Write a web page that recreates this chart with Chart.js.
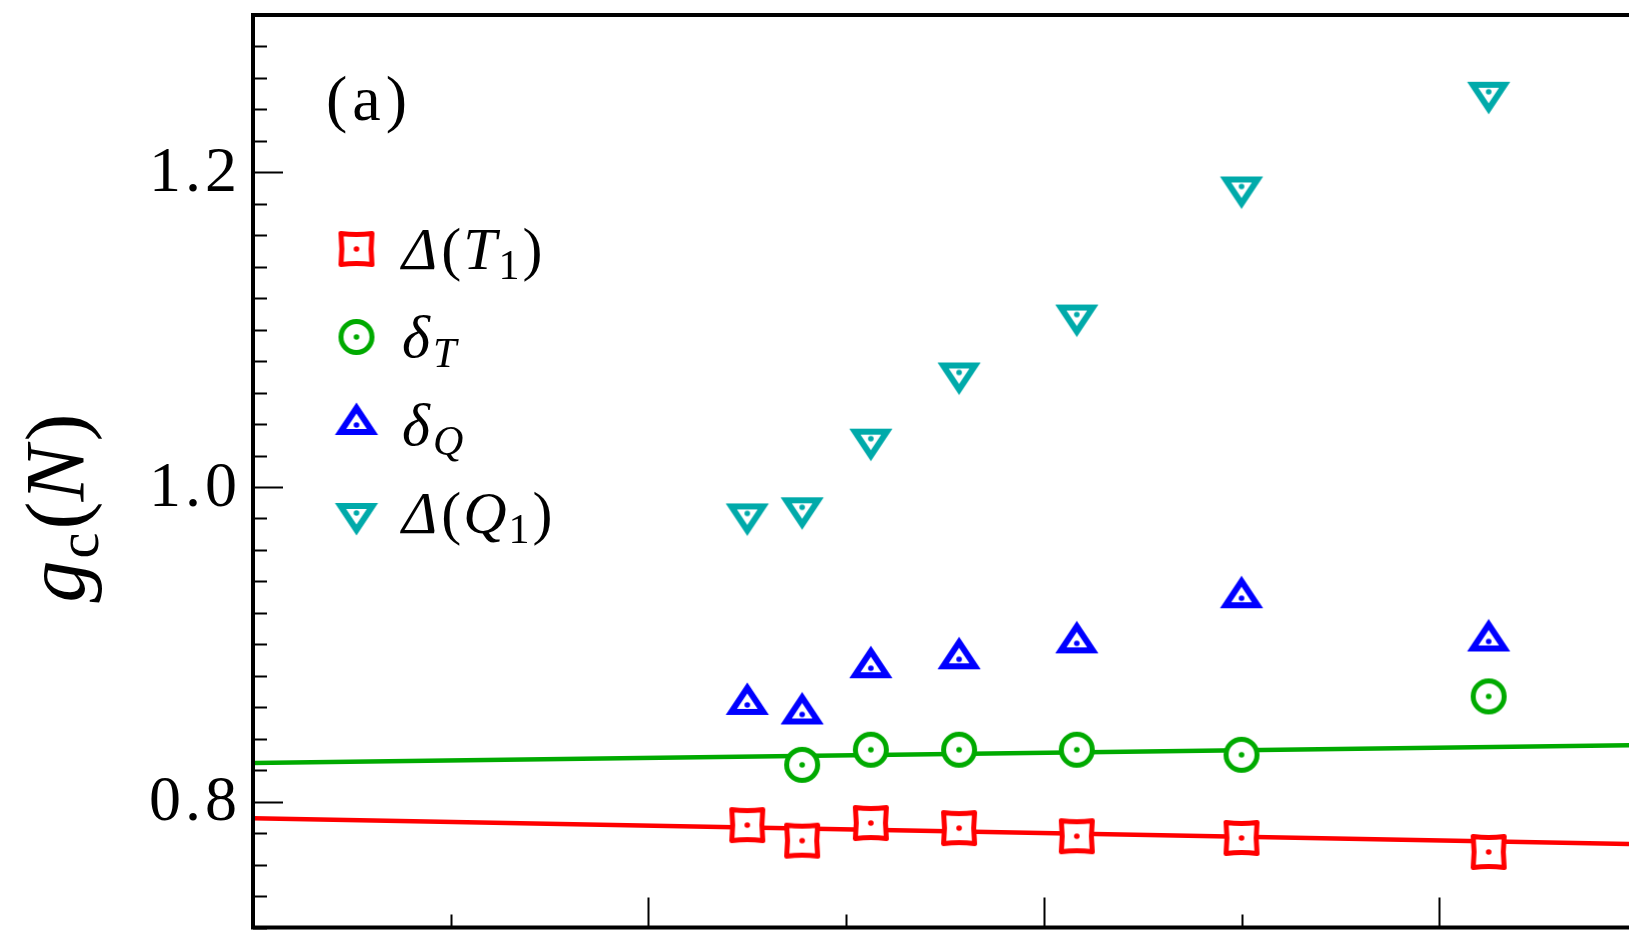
<!DOCTYPE html>
<html>
<head>
<meta charset="utf-8">
<title>g_c(N)</title>
<script src="https://cdn.jsdelivr.net/npm/chart.js@4.4.1/dist/chart.umd.min.js"></script>
<style>
  html, body { margin: 0; padding: 0; background: #fff; overflow: hidden; }
  canvas { display: block; }
</style>
</head>
<body>
<canvas id="gcChart" width="1629" height="932"></canvas>
<script>
// System sizes, plotted against 1/N
const sizes = [40, 36, 32, 28, 24, 20, 16];

// Critical coupling estimates for each size
const deltaT1 = [0.7851, 0.7752, 0.7864, 0.7832, 0.7780, 0.7769, 0.7680];
const deltaTsmall = [null, 0.8234, 0.8330, 0.8330, 0.8330, 0.8298, 0.8669];
const deltaQsmall = [0.8615, 0.8554, 0.8848, 0.8905, 0.9006, 0.9293, 0.9018];
const deltaQ1 = [0.9832, 0.9871, 1.0307, 1.0728, 1.1096, 1.1910, 1.2512];

// Linear extrapolations in 1/N (end points)
const fitX = [0, 0.0696];
const redFitY = [0.7894, 0.7731];
const greenFitY = [0.8245, 0.8359];

// Axis ticks
const xMajorTicks = [0, 0.02, 0.04, 0.06];
const xMinorTicks = [0.01, 0.03, 0.05];
const yMajorTicks = [0.8, 1.0, 1.2];
const yTickLabels = ['0.8', '1.0', '1.2'];
const yMin = 0.72, yMax = 1.30, yMinorStep = 0.02;

const RED = '#ff0000', GREEN = '#00aa00', BLUE = '#0000ff', CYAN = '#00aaaa';
const SERIF = '"Liberation Serif", "Times New Roman", serif';

// open markers with a dot in the middle
function makeMarker(shape, color) {
  const c = document.createElement('canvas');
  c.width = 60; c.height = 60;
  const g = c.getContext('2d');
  g.translate(30, 30);
  g.strokeStyle = color;
  g.fillStyle = '#fff';
  g.beginPath();
  if (shape === 'square') {
    const h = 15.5, k = 1.8;
    g.lineWidth = 5;
    g.lineJoin = 'round';
    g.moveTo(-h, -h);
    g.quadraticCurveTo(0, -h + k, h, -h);
    g.quadraticCurveTo(h - k, 0, h, h);
    g.quadraticCurveTo(0, h - k, -h, h);
    g.quadraticCurveTo(-h + k, 0, -h, -h);
  } else if (shape === 'circle') {
    g.lineWidth = 5;
    g.arc(0, 0, 15.5, 0, Math.PI * 2);
  } else if (shape === 'up') {
    g.lineWidth = 6;
    g.lineJoin = 'miter';
    g.moveTo(0, -17); g.lineTo(16, 7); g.lineTo(-16, 7);
  } else {
    g.lineWidth = 6;
    g.lineJoin = 'miter';
    g.moveTo(0, 17); g.lineTo(16, -7); g.lineTo(-16, -7);
  }
  g.closePath();
  g.fill();
  g.stroke();
  g.beginPath();
  g.fillStyle = color;
  g.arc(0, 0, 2.8, 0, Math.PI * 2);
  g.fill();
  return c;
}

const markers = {
  red: makeMarker('square', RED),
  green: makeMarker('circle', GREEN),
  blue: makeMarker('up', BLUE),
  cyan: makeMarker('down', CYAN)
};

function points(values) {
  return sizes.map((n, i) => ({ x: 1 / n, y: values[i] })).filter(p => p.y !== null);
}

// draws a run of text pieces (italic / subscript) and returns its width
function drawRuns(ctx, x, y, runs, size, measureOnly) {
  let cx = x;
  runs.forEach(r => {
    const s = r.sub ? size * 0.7 : size;
    ctx.font = (r.it ? 'italic ' : '') + s + 'px ' + SERIF;
    if (!measureOnly) ctx.fillText(r.t, cx, y + (r.sub ? size * 0.17 : 0));
    cx += ctx.measureText(r.t).width + (r.gap || 0);
  });
  return cx - x;
}

const legendItems = [
  { marker: markers.red, runs: [{ t: 'Δ', it: true, gap: 4 }, { t: '(', gap: 2 }, { t: 'T', it: true, gap: 2 }, { t: '1', sub: true, gap: 3 }, { t: ')' }] },
  { marker: markers.green, runs: [{ t: 'δ', it: true, gap: 3 }, { t: 'T', it: true, sub: true }] },
  { marker: markers.blue, runs: [{ t: 'δ', it: true, gap: 3 }, { t: 'Q', it: true, sub: true }] },
  { marker: markers.cyan, runs: [{ t: 'Δ', it: true, gap: 4 }, { t: '(', gap: 2 }, { t: 'Q', it: true, gap: 2 }, { t: '1', sub: true, gap: 3 }, { t: ')' }] }
];

const framePlugin = {
  id: 'frame',
  beforeDraw(chart) {
    const ctx = chart.ctx;
    ctx.save();
    ctx.fillStyle = '#fff';
    ctx.fillRect(0, 0, chart.width, chart.height);
    ctx.restore();
  },
  afterDatasetsDraw(chart) {
    const ctx = chart.ctx;
    const a = chart.chartArea;
    const xs = chart.scales.x, ys = chart.scales.y;
    ctx.save();
    ctx.strokeStyle = '#000';

    // inward ticks on left and bottom
    ctx.lineWidth = 2;
    ctx.beginPath();
    for (let v = yMin; v <= yMax + 1e-9; v += yMinorStep) {
      const py = Math.round(ys.getPixelForValue(v)) + 0.5;
      const major = yMajorTicks.some(m => Math.abs(m - v) < 1e-6);
      ctx.moveTo(a.left, py);
      ctx.lineTo(a.left + (major ? 30 : 14), py);
    }
    xMajorTicks.concat(xMinorTicks).forEach(v => {
      const px = Math.round(xs.getPixelForValue(v)) + 0.5;
      const major = xMajorTicks.includes(v);
      ctx.moveTo(px, a.bottom);
      ctx.lineTo(px, a.bottom - (major ? 30 : 13));
    });
    ctx.stroke();

    // axes box (right side runs off the canvas)
    ctx.lineWidth = 4;
    ctx.beginPath();
    ctx.moveTo(chart.width + 5, a.top);
    ctx.lineTo(a.left, a.top);
    ctx.lineTo(a.left, a.bottom);
    ctx.lineTo(chart.width + 5, a.bottom);
    ctx.stroke();

    // y tick labels
    ctx.fillStyle = '#000';
    ctx.font = '64px ' + SERIF;
    ctx.letterSpacing = '4px';
    ctx.textAlign = 'right';
    ctx.textBaseline = 'middle';
    yMajorTicks.forEach((v, i) => {
      ctx.fillText(yTickLabels[i], a.left - 12, ys.getPixelForValue(v) + 2);
    });

    // panel tag
    ctx.textAlign = 'left';
    ctx.textBaseline = 'alphabetic';
    ctx.font = '64px ' + SERIF;
    ctx.letterSpacing = '5px';
    ctx.fillText('(a)', 326, 120);
    ctx.letterSpacing = '0px';

    // legend
    const rows = [249, 337, 425, 513];
    legendItems.forEach((item, i) => {
      ctx.drawImage(item.marker, 356.5 - 30, rows[i] - 30);
      drawRuns(ctx, 402, rows[i] + 20, item.runs, 60);
    });

    // y axis title g_c(N)
    const title = [{ t: 'g', it: true, gap: 2 }, { t: 'c', sub: true, gap: 3 }, { t: '(' }, { t: 'N', it: true, gap: 4 }, { t: ')' }];
    ctx.translate(84, 508);
    ctx.rotate(-Math.PI / 2);
    const w = drawRuns(ctx, 0, 0, title, 84, true);
    drawRuns(ctx, -w / 2, 0, title, 84);
    ctx.restore();
  }
};

function scatterSet(label, values, marker) {
  return {
    label: label,
    data: points(values),
    showLine: false,
    pointStyle: marker,
    pointRadius: 18,
    order: 1
  };
}

function fitSet(label, yv, color) {
  return {
    type: 'line',
    label: label,
    data: fitX.map((x, i) => ({ x: x, y: yv[i] })),
    borderColor: color,
    borderWidth: 4.5,
    pointRadius: 0,
    showLine: true,
    order: 2
  };
}

new Chart(document.getElementById('gcChart').getContext('2d'), {
  type: 'scatter',
  data: {
    datasets: [
      scatterSet('Δ(T1)', deltaT1, markers.red),
      scatterSet('δT', deltaTsmall, markers.green),
      scatterSet('δQ', deltaQsmall, markers.blue),
      scatterSet('Δ(Q1)', deltaQ1, markers.cyan),
      fitSet('fit Δ(T1)', redFitY, RED),
      fitSet('fit δT', greenFitY, GREEN)
    ]
  },
  options: {
    responsive: false,
    animation: false,
    events: [],
    layout: { autoPadding: false, padding: { left: 253, top: 15, right: 0, bottom: 4.5 } },
    plugins: { legend: { display: false }, tooltip: { enabled: false } },
    scales: {
      x: { type: 'linear', min: fitX[0], max: fitX[1], display: false },
      y: { type: 'linear', min: yMin, max: yMax, display: false }
    }
  },
  plugins: [framePlugin]
});
</script>
</body>
</html>
